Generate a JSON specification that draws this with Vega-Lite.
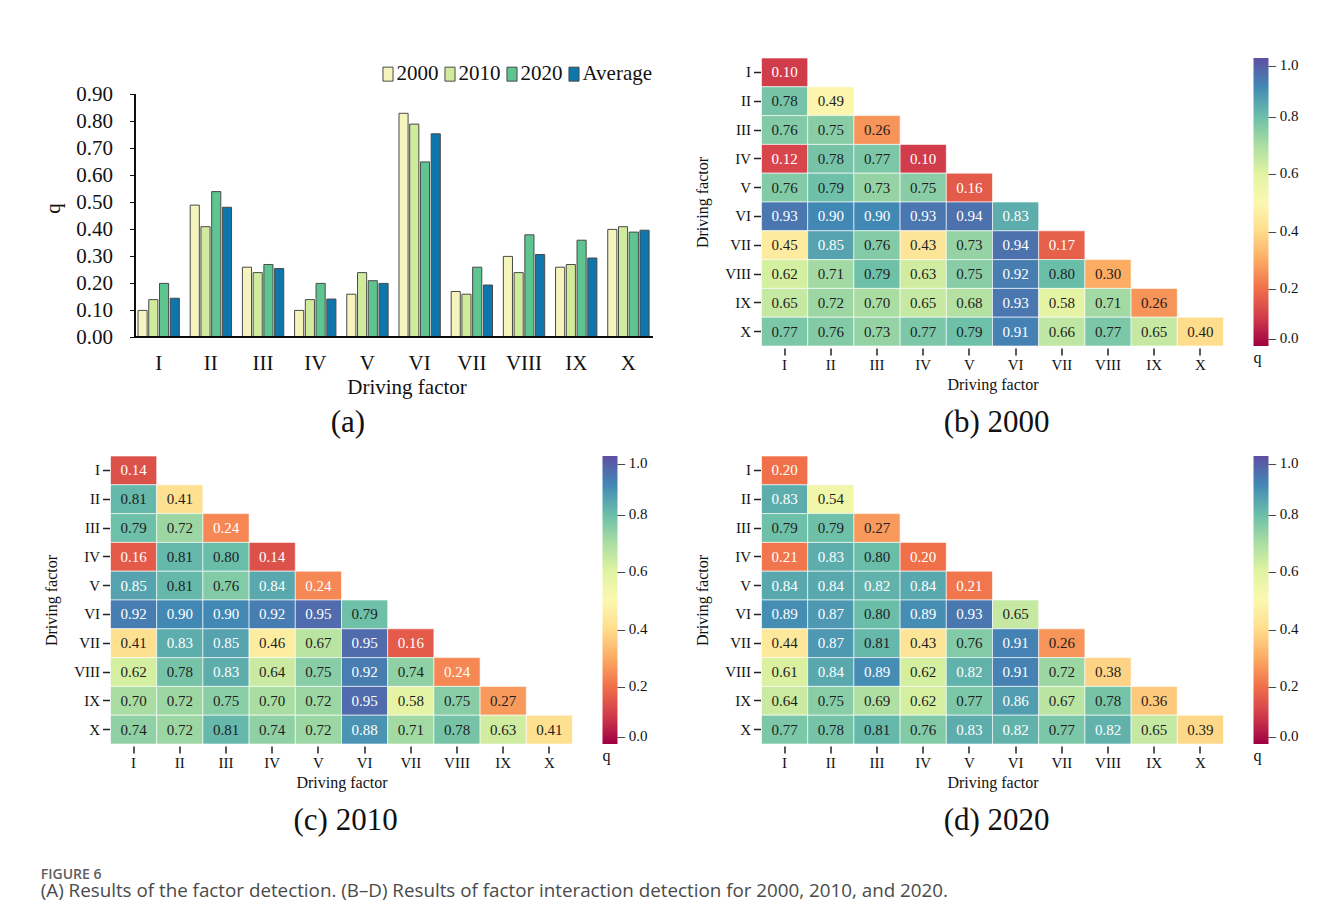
{
  "$schema": "https://vega.github.io/schema/vega-lite/v6.json",
  "background": "white",
  "padding": {"left": 40.5, "top": 57, "right": 0, "bottom": 0},
  "datasets": {
    "bars": [
      {"factor": "I", "series": "2000", "q": 0.10}, {"factor": "I", "series": "2010", "q": 0.14}, {"factor": "I", "series": "2020", "q": 0.20}, {"factor": "I", "series": "Average", "q": 0.145},
      {"factor": "II", "series": "2000", "q": 0.49}, {"factor": "II", "series": "2010", "q": 0.41}, {"factor": "II", "series": "2020", "q": 0.54}, {"factor": "II", "series": "Average", "q": 0.482},
      {"factor": "III", "series": "2000", "q": 0.26}, {"factor": "III", "series": "2010", "q": 0.24}, {"factor": "III", "series": "2020", "q": 0.27}, {"factor": "III", "series": "Average", "q": 0.255},
      {"factor": "IV", "series": "2000", "q": 0.10}, {"factor": "IV", "series": "2010", "q": 0.14}, {"factor": "IV", "series": "2020", "q": 0.20}, {"factor": "IV", "series": "Average", "q": 0.142},
      {"factor": "V", "series": "2000", "q": 0.16}, {"factor": "V", "series": "2010", "q": 0.24}, {"factor": "V", "series": "2020", "q": 0.21}, {"factor": "V", "series": "Average", "q": 0.200},
      {"factor": "VI", "series": "2000", "q": 0.83}, {"factor": "VI", "series": "2010", "q": 0.79}, {"factor": "VI", "series": "2020", "q": 0.65}, {"factor": "VI", "series": "Average", "q": 0.754},
      {"factor": "VII", "series": "2000", "q": 0.17}, {"factor": "VII", "series": "2010", "q": 0.16}, {"factor": "VII", "series": "2020", "q": 0.26}, {"factor": "VII", "series": "Average", "q": 0.194},
      {"factor": "VIII", "series": "2000", "q": 0.30}, {"factor": "VIII", "series": "2010", "q": 0.24}, {"factor": "VIII", "series": "2020", "q": 0.38}, {"factor": "VIII", "series": "Average", "q": 0.307},
      {"factor": "IX", "series": "2000", "q": 0.26}, {"factor": "IX", "series": "2010", "q": 0.27}, {"factor": "IX", "series": "2020", "q": 0.36}, {"factor": "IX", "series": "Average", "q": 0.294},
      {"factor": "X", "series": "2000", "q": 0.40}, {"factor": "X", "series": "2010", "q": 0.41}, {"factor": "X", "series": "2020", "q": 0.39}, {"factor": "X", "series": "Average", "q": 0.397}
    ],
    "h2000": [
      {"row": "I", "col": "I", "q": 0.10},
      {"row": "II", "col": "I", "q": 0.78}, {"row": "II", "col": "II", "q": 0.49},
      {"row": "III", "col": "I", "q": 0.76}, {"row": "III", "col": "II", "q": 0.75}, {"row": "III", "col": "III", "q": 0.26},
      {"row": "IV", "col": "I", "q": 0.12}, {"row": "IV", "col": "II", "q": 0.78}, {"row": "IV", "col": "III", "q": 0.77}, {"row": "IV", "col": "IV", "q": 0.10},
      {"row": "V", "col": "I", "q": 0.76}, {"row": "V", "col": "II", "q": 0.79}, {"row": "V", "col": "III", "q": 0.73}, {"row": "V", "col": "IV", "q": 0.75}, {"row": "V", "col": "V", "q": 0.16},
      {"row": "VI", "col": "I", "q": 0.93}, {"row": "VI", "col": "II", "q": 0.90}, {"row": "VI", "col": "III", "q": 0.90}, {"row": "VI", "col": "IV", "q": 0.93}, {"row": "VI", "col": "V", "q": 0.94}, {"row": "VI", "col": "VI", "q": 0.83},
      {"row": "VII", "col": "I", "q": 0.45}, {"row": "VII", "col": "II", "q": 0.85}, {"row": "VII", "col": "III", "q": 0.76}, {"row": "VII", "col": "IV", "q": 0.43}, {"row": "VII", "col": "V", "q": 0.73}, {"row": "VII", "col": "VI", "q": 0.94}, {"row": "VII", "col": "VII", "q": 0.17},
      {"row": "VIII", "col": "I", "q": 0.62}, {"row": "VIII", "col": "II", "q": 0.71}, {"row": "VIII", "col": "III", "q": 0.79}, {"row": "VIII", "col": "IV", "q": 0.63}, {"row": "VIII", "col": "V", "q": 0.75}, {"row": "VIII", "col": "VI", "q": 0.92}, {"row": "VIII", "col": "VII", "q": 0.80}, {"row": "VIII", "col": "VIII", "q": 0.30},
      {"row": "IX", "col": "I", "q": 0.65}, {"row": "IX", "col": "II", "q": 0.72}, {"row": "IX", "col": "III", "q": 0.70}, {"row": "IX", "col": "IV", "q": 0.65}, {"row": "IX", "col": "V", "q": 0.68}, {"row": "IX", "col": "VI", "q": 0.93}, {"row": "IX", "col": "VII", "q": 0.58}, {"row": "IX", "col": "VIII", "q": 0.71}, {"row": "IX", "col": "IX", "q": 0.26},
      {"row": "X", "col": "I", "q": 0.77}, {"row": "X", "col": "II", "q": 0.76}, {"row": "X", "col": "III", "q": 0.73}, {"row": "X", "col": "IV", "q": 0.77}, {"row": "X", "col": "V", "q": 0.79}, {"row": "X", "col": "VI", "q": 0.91}, {"row": "X", "col": "VII", "q": 0.66}, {"row": "X", "col": "VIII", "q": 0.77}, {"row": "X", "col": "IX", "q": 0.65}, {"row": "X", "col": "X", "q": 0.40}
    ],
    "h2010": [
      {"row": "I", "col": "I", "q": 0.14},
      {"row": "II", "col": "I", "q": 0.81}, {"row": "II", "col": "II", "q": 0.41},
      {"row": "III", "col": "I", "q": 0.79}, {"row": "III", "col": "II", "q": 0.72}, {"row": "III", "col": "III", "q": 0.24},
      {"row": "IV", "col": "I", "q": 0.16}, {"row": "IV", "col": "II", "q": 0.81}, {"row": "IV", "col": "III", "q": 0.80}, {"row": "IV", "col": "IV", "q": 0.14},
      {"row": "V", "col": "I", "q": 0.85}, {"row": "V", "col": "II", "q": 0.81}, {"row": "V", "col": "III", "q": 0.76}, {"row": "V", "col": "IV", "q": 0.84}, {"row": "V", "col": "V", "q": 0.24},
      {"row": "VI", "col": "I", "q": 0.92}, {"row": "VI", "col": "II", "q": 0.90}, {"row": "VI", "col": "III", "q": 0.90}, {"row": "VI", "col": "IV", "q": 0.92}, {"row": "VI", "col": "V", "q": 0.95}, {"row": "VI", "col": "VI", "q": 0.79},
      {"row": "VII", "col": "I", "q": 0.41}, {"row": "VII", "col": "II", "q": 0.83}, {"row": "VII", "col": "III", "q": 0.85}, {"row": "VII", "col": "IV", "q": 0.46}, {"row": "VII", "col": "V", "q": 0.67}, {"row": "VII", "col": "VI", "q": 0.95}, {"row": "VII", "col": "VII", "q": 0.16},
      {"row": "VIII", "col": "I", "q": 0.62}, {"row": "VIII", "col": "II", "q": 0.78}, {"row": "VIII", "col": "III", "q": 0.83}, {"row": "VIII", "col": "IV", "q": 0.64}, {"row": "VIII", "col": "V", "q": 0.75}, {"row": "VIII", "col": "VI", "q": 0.92}, {"row": "VIII", "col": "VII", "q": 0.74}, {"row": "VIII", "col": "VIII", "q": 0.24},
      {"row": "IX", "col": "I", "q": 0.70}, {"row": "IX", "col": "II", "q": 0.72}, {"row": "IX", "col": "III", "q": 0.75}, {"row": "IX", "col": "IV", "q": 0.70}, {"row": "IX", "col": "V", "q": 0.72}, {"row": "IX", "col": "VI", "q": 0.95}, {"row": "IX", "col": "VII", "q": 0.58}, {"row": "IX", "col": "VIII", "q": 0.75}, {"row": "IX", "col": "IX", "q": 0.27},
      {"row": "X", "col": "I", "q": 0.74}, {"row": "X", "col": "II", "q": 0.72}, {"row": "X", "col": "III", "q": 0.81}, {"row": "X", "col": "IV", "q": 0.74}, {"row": "X", "col": "V", "q": 0.72}, {"row": "X", "col": "VI", "q": 0.88}, {"row": "X", "col": "VII", "q": 0.71}, {"row": "X", "col": "VIII", "q": 0.78}, {"row": "X", "col": "IX", "q": 0.63}, {"row": "X", "col": "X", "q": 0.41}
    ],
    "h2020": [
      {"row": "I", "col": "I", "q": 0.20},
      {"row": "II", "col": "I", "q": 0.83}, {"row": "II", "col": "II", "q": 0.54},
      {"row": "III", "col": "I", "q": 0.79}, {"row": "III", "col": "II", "q": 0.79}, {"row": "III", "col": "III", "q": 0.27},
      {"row": "IV", "col": "I", "q": 0.21}, {"row": "IV", "col": "II", "q": 0.83}, {"row": "IV", "col": "III", "q": 0.80}, {"row": "IV", "col": "IV", "q": 0.20},
      {"row": "V", "col": "I", "q": 0.84}, {"row": "V", "col": "II", "q": 0.84}, {"row": "V", "col": "III", "q": 0.82}, {"row": "V", "col": "IV", "q": 0.84}, {"row": "V", "col": "V", "q": 0.21},
      {"row": "VI", "col": "I", "q": 0.89}, {"row": "VI", "col": "II", "q": 0.87}, {"row": "VI", "col": "III", "q": 0.80}, {"row": "VI", "col": "IV", "q": 0.89}, {"row": "VI", "col": "V", "q": 0.93}, {"row": "VI", "col": "VI", "q": 0.65},
      {"row": "VII", "col": "I", "q": 0.44}, {"row": "VII", "col": "II", "q": 0.87}, {"row": "VII", "col": "III", "q": 0.81}, {"row": "VII", "col": "IV", "q": 0.43}, {"row": "VII", "col": "V", "q": 0.76}, {"row": "VII", "col": "VI", "q": 0.91}, {"row": "VII", "col": "VII", "q": 0.26},
      {"row": "VIII", "col": "I", "q": 0.61}, {"row": "VIII", "col": "II", "q": 0.84}, {"row": "VIII", "col": "III", "q": 0.89}, {"row": "VIII", "col": "IV", "q": 0.62}, {"row": "VIII", "col": "V", "q": 0.82}, {"row": "VIII", "col": "VI", "q": 0.91}, {"row": "VIII", "col": "VII", "q": 0.72}, {"row": "VIII", "col": "VIII", "q": 0.38},
      {"row": "IX", "col": "I", "q": 0.64}, {"row": "IX", "col": "II", "q": 0.75}, {"row": "IX", "col": "III", "q": 0.69}, {"row": "IX", "col": "IV", "q": 0.62}, {"row": "IX", "col": "V", "q": 0.77}, {"row": "IX", "col": "VI", "q": 0.86}, {"row": "IX", "col": "VII", "q": 0.67}, {"row": "IX", "col": "VIII", "q": 0.78}, {"row": "IX", "col": "IX", "q": 0.36},
      {"row": "X", "col": "I", "q": 0.77}, {"row": "X", "col": "II", "q": 0.78}, {"row": "X", "col": "III", "q": 0.81}, {"row": "X", "col": "IV", "q": 0.76}, {"row": "X", "col": "V", "q": 0.83}, {"row": "X", "col": "VI", "q": 0.82}, {"row": "X", "col": "VII", "q": 0.77}, {"row": "X", "col": "VIII", "q": 0.82}, {"row": "X", "col": "IX", "q": 0.65}, {"row": "X", "col": "X", "q": 0.39}
    ]
  },
  "columns": 2,
  "spacing": {"row": 16, "column": 41},
  "resolve": {
    "scale": {"color": "independent", "x": "independent", "y": "independent"},
    "legend": {"color": "independent"}
  },
  "concat": [
    {
      "width": 542,
      "height": 279.4,
      "data": {"name": "bars"},
      "layer": [
        {
          "mark": {"type": "bar", "stroke": "#4a4a4a", "strokeWidth": 1},
          "encoding": {
            "x": {
              "field": "factor", "type": "nominal",
              "sort": ["I", "II", "III", "IV", "V", "VI", "VII", "VIII", "IX", "X"],
              "scale": {"paddingInner": 0.077, "paddingOuter": 0.2308, "align": 1},
              "axis": {"title": "Driving factor", "labelAngle": 0, "ticks": false, "domain": false, "labelFontSize": 21, "titleFontSize": 21, "labelPadding": 15, "titlePadding": 3, "titleX": 296}
            },
            "xOffset": {"field": "series", "type": "nominal", "sort": ["2000", "2010", "2020", "Average"], "scale": {"paddingInner": 0.15, "paddingOuter": 0.318}},
            "y": {
              "field": "q", "type": "quantitative",
              "scale": {"domain": [0, 1.0348], "nice": false},
              "axis": {"title": "q", "values": [0, 0.1, 0.2, 0.3, 0.4, 0.5, 0.6, 0.7, 0.8, 0.9], "tickCount": 12, "format": ".2f", "labelOverlap": false, "domain": false, "offset": -24, "tickSize": 5, "tickColor": "#111", "labelPadding": 17, "titlePadding": 12, "titleY": 150, "labelFontSize": 21, "titleFontSize": 21}
            },
            "color": {
              "field": "series", "type": "nominal",
              "sort": ["2000", "2010", "2020", "Average"],
              "scale": {"range": ["#f4f4bc", "#d0eb9c", "#5ec490", "#0e76aa"]},
              "legend": {"title": null, "orient": "none", "legendX": 267, "legendY": 5.4, "direction": "horizontal", "padding": 0, "symbolType": "M-0.72,-1H0.72V1H-0.72Z", "symbolSize": 196, "symbolStrokeColor": "#4a4a4a", "symbolStrokeWidth": 1, "labelFontSize": 21, "labelOffset": -2, "columnPadding": 1, "labelBaseline": "middle"}
            }
          }
        },
        {
          "mark": {"type": "rule", "color": "#111", "strokeWidth": 1},
          "encoding": {
            "x": {"datum": "I", "type": "nominal", "bandPosition": 0},
            "y": {"datum": 0, "type": "quantitative"},
            "y2": {"datum": 0.9}
          }
        },
        {
          "mark": {"type": "rule", "color": "#111", "strokeWidth": 1},
          "encoding": {
            "x": {"datum": "I", "type": "nominal", "bandPosition": 0},
            "x2": {"datum": "X", "bandPosition": 1},
            "y": {"datum": 0, "type": "quantitative"}
          }
        }
      ],
      "title": {"text": "(a)", "orient": "bottom", "frame": "bounds", "fontSize": 31, "offset": 11}
    },
    {
      "width": 462,
      "height": 288,
      "data": {"name": "h2000"},
      "encoding": {
        "x": {"field": "col", "type": "ordinal", "scale": {"domain": ["I", "II", "III", "IV", "V", "VI", "VII", "VIII", "IX", "X"]}, "axis": {"title": "Driving factor", "labelAngle": 0, "domain": false, "tickSize": 7, "tickWidth": 1.5, "offset": 2, "labelPadding": 2, "titlePadding": 4}},
        "y": {"field": "row", "type": "ordinal", "scale": {"domain": ["I", "II", "III", "IV", "V", "VI", "VII", "VIII", "IX", "X"]}, "axis": {"title": "Driving factor", "domain": false, "tickSize": 7, "tickWidth": 1.5, "offset": 1, "labelPadding": 3, "titlePadding": 14}}
      },
      "layer": [
        {
          "mark": {"type": "rect", "stroke": "white", "strokeWidth": 1, "strokeOpacity": 0.6},
          "encoding": {
            "color": {"field": "q", "type": "quantitative", "scale": {"scheme": "spectral", "domain": [0, 1]},
              "legend": {"title": "q", "titleOrient": "bottom", "titleAnchor": "start", "titleFontSize": 16, "titlePadding": 4, "orient": "right", "offset": 30, "padding": 0, "gradientLength": 288, "gradientThickness": 15, "gradientStrokeWidth": 0, "values": [0, 0.2, 0.4, 0.6, 0.8, 1], "format": ".1f", "labelExpr": "'– ' + datum.label", "labelOffset": 0, "labelBaseline": "middle", "labelFontSize": 15}}
          }
        },
        {
          "mark": {"type": "text", "fontSize": 15},
          "encoding": {
            "text": {"field": "q", "type": "quantitative", "format": ".2f"},
            "color": {"condition": {"test": "datum.q < 0.25 || datum.q > 0.815", "value": "white"}, "value": "#1e1e1e"}
          }
        }
      ],
      "title": {"text": "(b) 2000", "orient": "bottom", "frame": "bounds", "fontSize": 31, "offset": 16}
    },
    {
      "width": 462,
      "height": 288,
      "data": {"name": "h2010"},
      "encoding": {
        "x": {"field": "col", "type": "ordinal", "scale": {"domain": ["I", "II", "III", "IV", "V", "VI", "VII", "VIII", "IX", "X"]}, "axis": {"title": "Driving factor", "labelAngle": 0, "domain": false, "tickSize": 7, "tickWidth": 1.5, "offset": 2, "labelPadding": 2, "titlePadding": 4}},
        "y": {"field": "row", "type": "ordinal", "scale": {"domain": ["I", "II", "III", "IV", "V", "VI", "VII", "VIII", "IX", "X"]}, "axis": {"title": "Driving factor", "domain": false, "tickSize": 7, "tickWidth": 1.5, "offset": 1, "labelPadding": 3, "titlePadding": 14}}
      },
      "layer": [
        {
          "mark": {"type": "rect", "stroke": "white", "strokeWidth": 1, "strokeOpacity": 0.6},
          "encoding": {
            "color": {"field": "q", "type": "quantitative", "scale": {"scheme": "spectral", "domain": [0, 1]},
              "legend": {"title": "q", "titleOrient": "bottom", "titleAnchor": "start", "titleFontSize": 16, "titlePadding": 4, "orient": "right", "offset": 30, "padding": 0, "gradientLength": 288, "gradientThickness": 15, "gradientStrokeWidth": 0, "values": [0, 0.2, 0.4, 0.6, 0.8, 1], "format": ".1f", "labelExpr": "'– ' + datum.label", "labelOffset": 0, "labelBaseline": "middle", "labelFontSize": 15}}
          }
        },
        {
          "mark": {"type": "text", "fontSize": 15},
          "encoding": {
            "text": {"field": "q", "type": "quantitative", "format": ".2f"},
            "color": {"condition": {"test": "datum.q < 0.25 || datum.q > 0.815", "value": "white"}, "value": "#1e1e1e"}
          }
        }
      ],
      "title": {"text": "(c) 2010", "orient": "bottom", "frame": "bounds", "fontSize": 31, "offset": 16}
    },
    {
      "width": 462,
      "height": 288,
      "data": {"name": "h2020"},
      "encoding": {
        "x": {"field": "col", "type": "ordinal", "scale": {"domain": ["I", "II", "III", "IV", "V", "VI", "VII", "VIII", "IX", "X"]}, "axis": {"title": "Driving factor", "labelAngle": 0, "domain": false, "tickSize": 7, "tickWidth": 1.5, "offset": 2, "labelPadding": 2, "titlePadding": 4}},
        "y": {"field": "row", "type": "ordinal", "scale": {"domain": ["I", "II", "III", "IV", "V", "VI", "VII", "VIII", "IX", "X"]}, "axis": {"title": "Driving factor", "domain": false, "tickSize": 7, "tickWidth": 1.5, "offset": 1, "labelPadding": 3, "titlePadding": 14}}
      },
      "layer": [
        {
          "mark": {"type": "rect", "stroke": "white", "strokeWidth": 1, "strokeOpacity": 0.6},
          "encoding": {
            "color": {"field": "q", "type": "quantitative", "scale": {"scheme": "spectral", "domain": [0, 1]},
              "legend": {"title": "q", "titleOrient": "bottom", "titleAnchor": "start", "titleFontSize": 16, "titlePadding": 4, "orient": "right", "offset": 30, "padding": 0, "gradientLength": 288, "gradientThickness": 15, "gradientStrokeWidth": 0, "values": [0, 0.2, 0.4, 0.6, 0.8, 1], "format": ".1f", "labelExpr": "'– ' + datum.label", "labelOffset": 0, "labelBaseline": "middle", "labelFontSize": 15}}
          }
        },
        {
          "mark": {"type": "text", "fontSize": 15},
          "encoding": {
            "text": {"field": "q", "type": "quantitative", "format": ".2f"},
            "color": {"condition": {"test": "datum.q < 0.25 || datum.q > 0.815", "value": "white"}, "value": "#1e1e1e"}
          }
        }
      ],
      "title": {"text": "(d) 2020", "orient": "bottom", "frame": "bounds", "fontSize": 31, "offset": 16}
    }
  ],
  "title": {
    "text": "FIGURE 6",
    "subtitle": "(A) Results of the factor detection. (B–D) Results of factor interaction detection for 2000, 2010, and 2020.",
    "orient": "bottom",
    "anchor": "start",
    "offset": 32,
    "dx": -2,
    "font": "Open Sans",
    "fontSize": 14,
    "fontWeight": 600,
    "color": "#606060",
    "subtitleFont": "Open Sans",
    "subtitleFontSize": 18.8,
    "subtitleColor": "#4a4a4a",
    "subtitlePadding": 0
  },
  "config": {
    "font": "Liberation Serif",
    "view": {"stroke": null},
    "axis": {"labelFont": "Liberation Serif", "titleFont": "Liberation Serif", "labelColor": "#111", "titleColor": "#111", "titleFontWeight": "normal", "labelFontSize": 15, "titleFontSize": 16, "grid": false, "tickColor": "#222", "domainColor": "#222"},
    "legend": {"labelFont": "Liberation Serif", "titleFont": "Liberation Serif", "labelColor": "#111", "titleColor": "#111", "titleFontWeight": "normal"},
    "title": {"font": "Liberation Serif", "fontWeight": "normal", "color": "#111"}
  }
}
